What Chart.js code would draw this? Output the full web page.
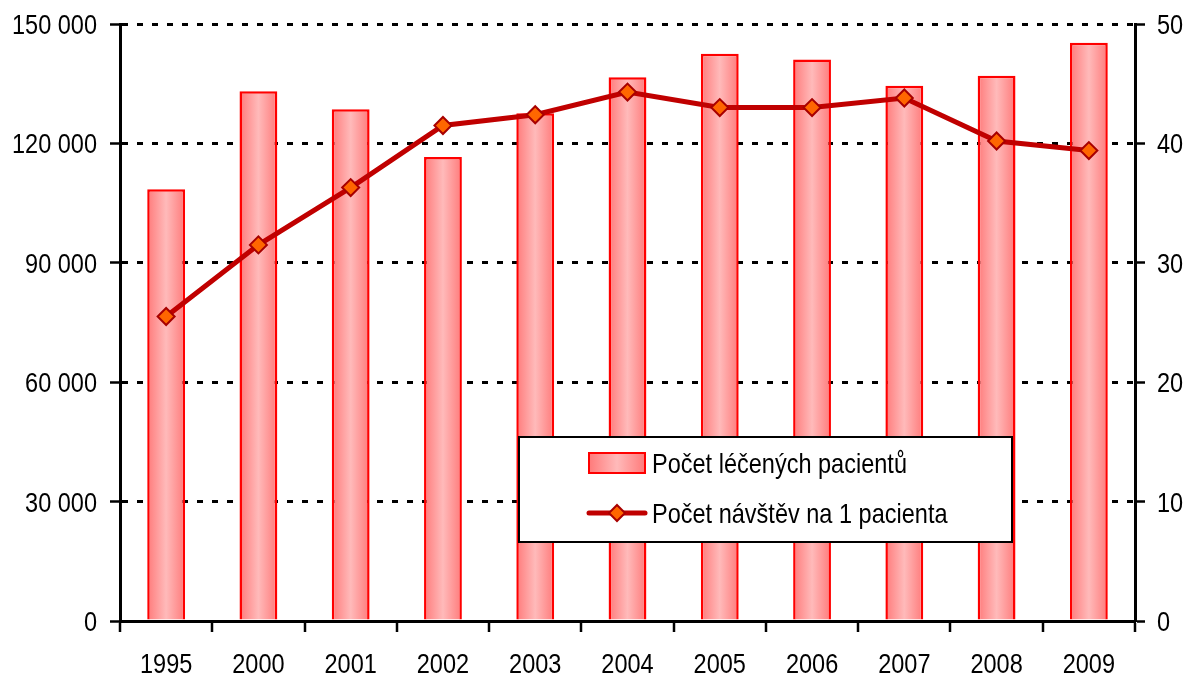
<!DOCTYPE html>
<html>
<head>
<meta charset="utf-8">
<script src="https://cdn.jsdelivr.net/npm/chart.js@4/dist/chart.umd.min.js"></script>
<style>
html,body{margin:0;padding:0;background:#fff;}
#wrap{width:1188px;height:676px;position:relative;}
</style>
</head>
<body>
<div id="wrap"><canvas id="c" width="1188" height="676"></canvas></div>
<script>
const categories = ['1995','2000','2001','2002','2003','2004','2005','2006','2007','2008','2009'];
const patients = [108500,133100,128600,116600,127600,136600,142500,141100,134500,137000,145300];
const visitsPerPatient = [25.5,31.5,36.3,41.5,42.4,44.3,43.0,43.0,43.8,40.2,39.4];
const leftTicks = [0,30000,60000,90000,120000,150000];
const rightTicks = [0,10,20,30,40,50];
const seriesNames = ['Počet léčených pacientů','Počet návštěv na 1 pacienta'];

const FONT = "'Liberation Sans',Arial,sans-serif";
const FONT_SIZE = 28;
const NARROW = 0.84;   // horizontal squeeze to mimic a narrow face
const BAR_FRAC = 0.41;

function fmt(v){ return String(v).replace(/\B(?=(\d{3})+(?!\d))/g,' '); }

function narrowText(ctx, text, x, y, align){
  ctx.save();
  ctx.translate(x, y);
  ctx.scale(NARROW, 1);
  ctx.textAlign = align;
  ctx.fillText(text, 0, 0);
  ctx.restore();
}

function barGradient(ctx2d, x0, x1){
  const g = ctx2d.createLinearGradient(x0,0,x1,0);
  g.addColorStop(0,'#ff7a7a');
  g.addColorStop(0.5,'#ffbaba');
  g.addColorStop(1,'#ff7a7a');
  return g;
}

const labelPlugin = {
  id:'narrowLabels',
  afterDraw(chart){
    const ctx = chart.ctx;
    const ca = chart.chartArea;
    const sx = chart.scales.x, sy = chart.scales.y, sy1 = chart.scales.y1;
    ctx.save();
    ctx.fillStyle = '#000';
    ctx.font = FONT_SIZE + 'px ' + FONT;
    ctx.textBaseline = 'alphabetic';
    sy.ticks.forEach(t => {
      narrowText(ctx, fmt(t.value), sy.right - 23, sy.getPixelForValue(t.value) + 10, 'right');
    });
    sy1.ticks.forEach(t => {
      narrowText(ctx, String(t.value), sy1.left + 22, sy1.getPixelForValue(t.value) + 10, 'left');
    });
    categories.forEach((c, i) => {
      narrowText(ctx, c, sx.getPixelForValue(i), ca.bottom + 52, 'center');
    });
    ctx.restore();
  }
};

const legendPlugin = {
  id:'customLegend',
  afterDatasetsDraw(chart){
    const ctx = chart.ctx;
    const ca = chart.chartArea;
    const bx = ca.left + 399, by = ca.top + 413, bw = 493, bh = 105;
    ctx.save();
    ctx.fillStyle = '#fff';
    ctx.fillRect(bx,by,bw,bh);
    ctx.lineWidth = 2;
    ctx.strokeStyle = '#000';
    ctx.strokeRect(bx,by,bw,bh);
    // bar symbol
    const sx = bx + 70, sw = 56;
    ctx.fillStyle = barGradient(ctx, sx, sx+sw);
    ctx.fillRect(sx, by+16, sw, 20);
    ctx.strokeStyle = '#ff0000';
    ctx.lineWidth = 2;
    ctx.strokeRect(sx, by+16, sw, 20);
    // line symbol
    const ly = by + 76;
    ctx.strokeStyle = '#c00000';
    ctx.lineWidth = 5;
    ctx.lineCap = 'round';
    ctx.beginPath(); ctx.moveTo(sx, ly); ctx.lineTo(sx+sw, ly); ctx.stroke();
    const cx = sx + 28, r = 8;
    ctx.beginPath();
    ctx.moveTo(cx, ly-r); ctx.lineTo(cx+r, ly); ctx.lineTo(cx, ly+r); ctx.lineTo(cx-r, ly); ctx.closePath();
    ctx.fillStyle = '#ff6600'; ctx.fill();
    ctx.lineWidth = 2; ctx.strokeStyle = '#a80000'; ctx.stroke();
    // texts
    ctx.fillStyle = '#000';
    ctx.font = FONT_SIZE + 'px ' + FONT;
    ctx.textBaseline = 'alphabetic';
    narrowText(ctx, seriesNames[0], bx+133, by+36, 'left');
    narrowText(ctx, seriesNames[1], bx+133, ly+10, 'left');
    ctx.restore();
  }
};

Chart.defaults.font.family = FONT;
Chart.defaults.font.size = FONT_SIZE;
Chart.defaults.color = '#000';

new Chart(document.getElementById('c'), {
  data:{
    labels: categories,
    datasets:[
      {
        type:'line',
        label: seriesNames[1],
        data: visitsPerPatient,
        yAxisID:'y1',
        borderColor:'#c00000',
        borderWidth:5,
        pointStyle:'rectRot',
        pointRadius:8.5,
        pointHoverRadius:8.5,
        pointBackgroundColor:'#ff6600',
        pointBorderColor:'#a80000',
        pointBorderWidth:2,
        tension:0,
        order:0
      },
      {
        type:'bar',
        label: seriesNames[0],
        data: patients,
        yAxisID:'y',
        backgroundColor(ctx){
          const chart = ctx.chart;
          const xs = chart.scales && chart.scales.x;
          if (ctx.type !== 'data' || !xs || !chart.chartArea) return '#ff9a9a';
          const cx = xs.getPixelForValue(ctx.dataIndex);
          const w = xs.width / categories.length * BAR_FRAC;
          return barGradient(chart.ctx, cx - w/2, cx + w/2);
        },
        borderColor:'#ff0000',
        borderWidth:2.5,
        barPercentage: BAR_FRAC,
        categoryPercentage:1,
        order:1
      }
    ]
  },
  options:{
    responsive:false,
    animation:false,
    events:[],
    layout:{padding:{top:24,left:0,right:0,bottom:0}},
    plugins:{legend:{display:false},tooltip:{enabled:false}},
    scales:{
      x:{
        type:'category',
        offset:true,
        grid:{offset:true,drawOnChartArea:false,color:'#000',lineWidth:2,tickLength:11,tickColor:'#000',tickWidth:2.5},
        border:{color:'#000',width:3},
        ticks:{display:false},
        afterFit(s){ s.height = 55; }
      },
      y:{
        position:'left',
        min:0,max:150000,
        afterBuildTicks(s){ s.ticks = leftTicks.map(v=>({value:v})); },
        grid:{color:'#000',lineWidth:3,tickLength:10,tickColor:'#000',tickWidth:2.5,tickBorderDash:[]},
        border:{color:'#000',width:3,dash:[6,9]},
        ticks:{display:false},
        afterFit(s){ s.width = 120; }
      },
      y1:{
        position:'right',
        min:0,max:50,
        afterBuildTicks(s){ s.ticks = rightTicks.map(v=>({value:v})); },
        grid:{drawOnChartArea:false,color:'#000',tickLength:10,tickColor:'#000',tickWidth:2.5},
        border:{color:'#000',width:3},
        ticks:{display:false},
        afterFit(s){ s.width = 53; }
      }
    }
  },
  plugins:[legendPlugin, labelPlugin]
});
</script>
</body>
</html>
